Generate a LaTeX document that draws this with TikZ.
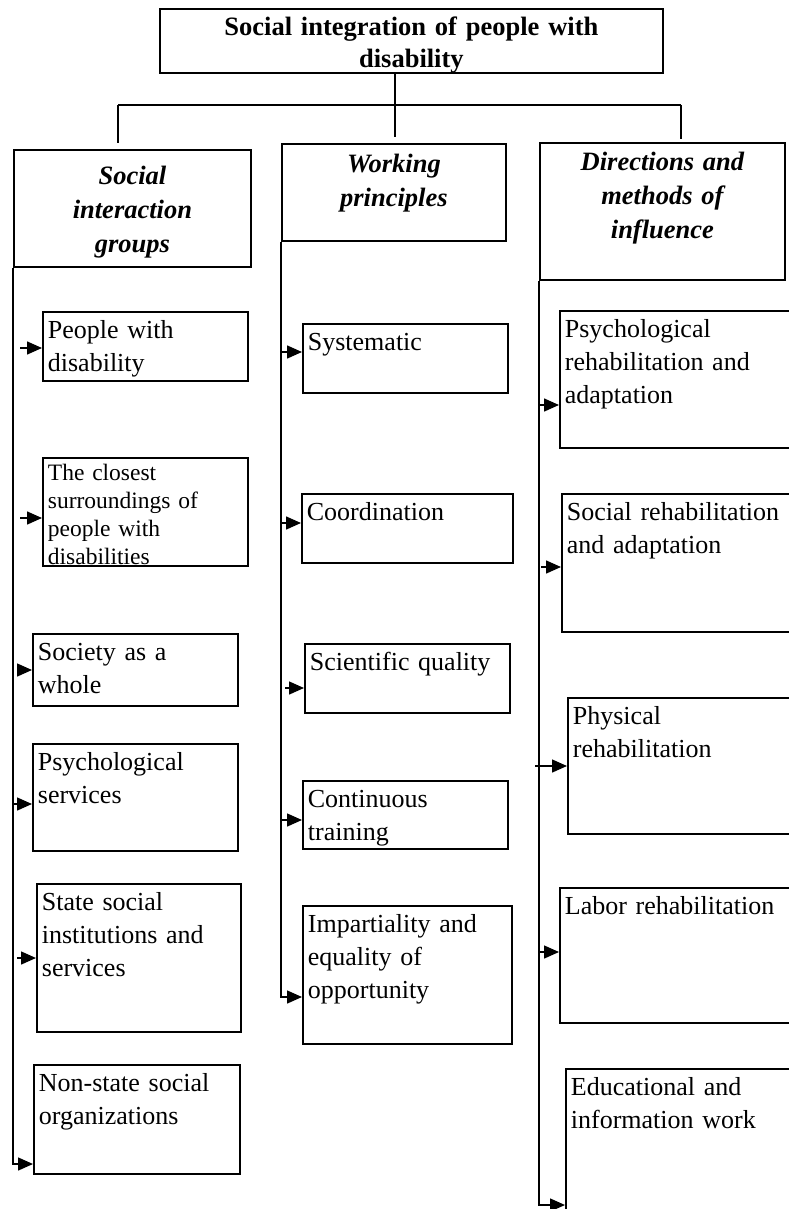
\documentclass[tikz,border=0pt]{standalone}
\usepackage{fontspec}
\setmainfont{Liberation Serif}
\usetikzlibrary{arrows.meta}

\begin{document}
\begin{tikzpicture}[x=1pt, y=-1pt, line join=miter,
  box/.style={draw, line width=1.8pt, anchor=north west, inner xsep=5pt, inner ysep=9pt,
    text height=18pt, align=left, font=\fontsize{26}{33}\selectfont},
  head/.style={box, align=center, font=\fontsize{26.5}{34}\selectfont\bfseries\itshape},
  ln/.style={line width=1.5pt},
  arr/.style={ln, -{Triangle[length=15pt,width=13pt]}}
]
  \useasboundingbox (0,0) rectangle (789,1209);

  % top
  \node[box, align=center, font=\fontsize{26.5}{32}\selectfont\bfseries,
    text width=493pt, text depth=28pt] (title) at (159,8) {Social integration of people with\\disability};

  \node[head, text width=227pt, text height=26pt, text depth=73pt] (g1) at (13,149) {Social\\interaction\\groups};
  \node[head, text width=214pt, text height=20pt, text depth=59pt] (g2) at (281,143) {Working\\principles};
  \node[head, text width=235pt, text height=19pt, text depth=100pt] (g3) at (539,142) {Directions and\\methods of\\influence};

  \coordinate (jl) at (118,105);
  \coordinate (jm) at (395,105);
  \coordinate (jr) at (681,105);
  \draw[ln] (title.south -| jm) -- (jm);
  \draw[ln] (jl) -- (jr);
  \draw[ln, shorten >=6pt] (jl) -- (jl |- g1.north);
  \draw[ln, shorten >=6pt] (jm) -- (jm |- g2.north);
  \draw[ln, shorten >=3pt] (jr) -- (jr |- g3.north);

  % social interaction groups
  \node[box, text width=195pt, text depth=33pt] (p1) at (42,311) {People with\\disability};
  \node[box, text width=195pt, text height=14pt, text depth=76pt,
    font=\fontsize{23.5}{28}\selectfont] (p2) at (42,457) {The closest\\surroundings of\\people with\\disabilities};
  \node[box, text width=195pt, text depth=36pt] (p3) at (32,633) {Society as a\\whole};
  \node[box, text width=195pt, text depth=71pt] (p4) at (32,743) {Psychological\\services};
  \node[box, text width=194pt, text depth=112pt] (p5) at (36,883) {State social\\institutions and\\services};
  \node[box, text width=196pt, text depth=73pt] (p6) at (33,1064) {Non-state social\\organizations};

  % working principles
  \node[box, text width=195pt, text depth=33pt] (m1) at (302,323) {Systematic};
  \node[box, text width=201pt, text depth=33pt] (m2) at (301,493) {Coordination};
  \node[box, text width=195pt, text depth=33pt] (m3) at (304,643) {Scientific quality};
  \node[box, text width=195pt, text depth=32pt] (m4) at (302,780) {Continuous\\training};
  \node[box, text width=199pt, text depth=102pt] (m5) at (302,905) {Impartiality and\\equality of\\opportunity};

  % directions and methods
  \node[box, text width=250pt, text depth=101pt] (r1) at (559,310) {Psychological\\rehabilitation and\\adaptation};
  \node[box, text width=250pt, text depth=102pt] (r2) at (561,493) {Social rehabilitation\\and adaptation};
  \node[box, text width=250pt, text depth=100pt] (r3) at (567,697) {Physical\\rehabilitation};
  \node[box, text width=250pt, text depth=99pt] (r4) at (559,887) {Labor rehabilitation};
  \node[box, text width=250pt, text depth=150pt] (r5) at (565,1068) {Educational and\\information work};

  % trunks
  \draw[arr] (g1.south west) |- (p6.west |- 0,1164);
  \draw[arr] (g2.south west) |- (m5.west |- 0,997);
  \draw[arr] (g3.south west) |- (r5.west |- 0,1205);

  \foreach \n/\y/\d in {p1/348/7, p2/518/7, p3/670/4, p4/804/0, p5/958/4}
    \draw[arr] (g1.south west |- 0,\y) ++(\d,0) -- (\n.west |- 0,\y);
  \foreach \n/\y/\d in {m1/352/1, m2/523/1, m3/688/4, m4/820/1}
    \draw[arr] (g2.south west |- 0,\y) ++(\d,0) -- (\n.west |- 0,\y);
  \foreach \n/\y/\d in {r1/405/0, r2/567/2, r3/766/-4, r4/952/1}
    \draw[arr] (g3.south west |- 0,\y) ++(\d,0) -- (\n.west |- 0,\y);
\end{tikzpicture}
\end{document}
